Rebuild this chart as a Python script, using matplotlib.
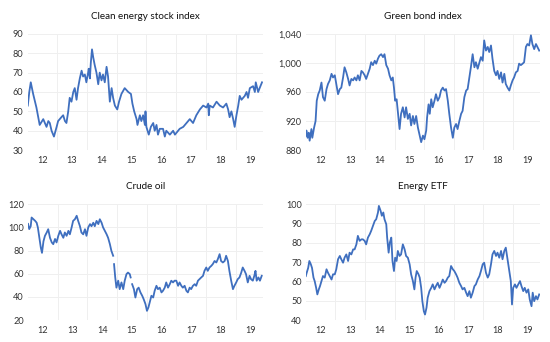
import numpy as np
import matplotlib.pyplot as plt
from matplotlib.ticker import FuncFormatter

# decimal-year offsets from 2012 and index levels
clean_t = [0.01, 0.06, 0.11, 0.19, 0.30, 0.41, 0.53, 0.64, 0.70, 0.75, 0.81, 0.89, 0.98,
           1.03, 1.14, 1.20, 1.26, 1.31, 1.37, 1.42, 1.48, 1.54, 1.59, 1.65, 1.70, 1.76, 1.82,
           1.87, 1.93, 1.98, 2.04, 2.06, 2.10, 2.13, 2.17, 2.21, 2.26, 2.32, 2.38, 2.43, 2.49,
           2.54, 2.60, 2.66, 2.71, 2.77, 2.83, 2.88, 2.94, 3.02, 3.08, 3.16, 3.27, 3.39, 3.48,
           3.53, 3.59, 3.67, 3.70, 3.78, 3.83, 3.89, 3.95, 3.97, 4.00, 4.08, 4.15, 4.23, 4.28,
           4.34, 4.39, 4.45, 4.56, 4.62, 4.67, 4.73, 4.79, 4.90, 4.96, 5.12, 5.24, 5.35, 5.46,
           5.57, 5.68, 5.80, 5.91, 6.02, 6.08, 6.10, 6.13, 6.24, 6.36, 6.47, 6.58, 6.69, 6.75,
           6.80, 6.86, 6.92, 6.97, 7.03, 7.09, 7.14, 7.20, 7.31, 7.37, 7.42, 7.48, 7.59, 7.65,
           7.68, 7.76, 7.81, 7.89]
clean_v = [53, 60, 65, 59, 52, 43, 46, 42, 45, 44, 40, 37, 42,
           45, 47, 48, 45, 44, 50, 57, 55, 60, 62, 56, 62, 67, 71,
           68, 69, 65, 70, 72, 67, 75, 82, 78, 74, 70, 64, 70, 66,
           69, 65, 73, 68, 55, 62, 57, 53, 51, 55, 59, 62, 60, 59,
           54, 50, 46, 43, 48, 45, 48, 43, 50, 42, 38, 42, 44, 40,
           43, 38, 41, 41, 37, 40, 39, 38, 40, 38, 41, 42, 44, 46,
           44, 48, 51, 53, 52, 54, 48, 53, 52, 55, 53, 52, 54, 51,
           47, 50, 46, 42, 48, 53, 58, 56, 58, 60, 57, 62, 63, 60,
           65, 60, 62, 65]

bond_t = [0.00, 0.02, 0.06, 0.10, 0.13, 0.19, 0.22, 0.28, 0.33, 0.37, 0.42, 0.47, 0.53,
          0.58, 0.64, 0.70, 0.75, 0.81, 0.87, 0.92, 0.98, 1.03, 1.09, 1.15, 1.20, 1.26, 1.31,
          1.37, 1.43, 1.48, 1.54, 1.60, 1.65, 1.71, 1.76, 1.82, 1.88, 1.93, 1.99, 2.04, 2.10,
          2.16, 2.21, 2.27, 2.33, 2.38, 2.44, 2.49, 2.55, 2.61, 2.66, 2.72, 2.78, 2.83, 2.89,
          2.94, 2.98, 3.02, 3.07, 3.11, 3.17, 3.22, 3.28, 3.34, 3.39, 3.45, 3.51, 3.56, 3.62,
          3.67, 3.73, 3.79, 3.84, 3.90, 3.96, 4.01, 4.07, 4.10, 4.15, 4.19, 4.24, 4.29, 4.35,
          4.40, 4.46, 4.52, 4.57, 4.63, 4.69, 4.74, 4.80, 4.85, 4.91, 4.97, 5.02, 5.08, 5.13,
          5.19, 5.25, 5.30, 5.36, 5.42, 5.47, 5.53, 5.58, 5.64, 5.70, 5.75, 5.81, 5.87, 5.92,
          5.98, 6.03, 6.09, 6.15, 6.20, 6.26, 6.31, 6.37, 6.43, 6.48, 6.54, 6.60, 6.65, 6.71,
          6.76, 6.82, 6.88, 6.93, 6.99, 7.04, 7.10, 7.16, 7.21, 7.27, 7.33, 7.38, 7.44, 7.49,
          7.55, 7.61, 7.66, 7.72, 7.78, 7.83, 7.89]
bond_v = [900, 907, 897, 904, 893, 909, 897, 911, 920, 948, 957, 962, 973,
          953, 948, 964, 971, 976, 985, 980, 983, 971, 957, 964, 966, 980, 994,
          987, 978, 969, 978, 976, 980, 976, 983, 976, 989, 987, 983, 978, 985,
          992, 1001, 997, 1003, 999, 1006, 1010, 1012, 1008, 1012, 997, 992, 983, 976,
          980, 966, 948, 950, 934, 909, 930, 939, 925, 939, 923, 930, 914, 927,
          916, 927, 911, 902, 891, 900, 895, 907, 925, 943, 930, 950, 939, 948,
          957, 948, 953, 962, 966, 962, 964, 948, 930, 911, 897, 911, 916, 909,
          920, 930, 934, 953, 962, 964, 980, 994, 1012, 994, 1001, 992, 1001, 1008,
          1003, 1031, 1017, 1022, 1015, 1024, 1006, 989, 983, 989, 978, 987, 973, 985,
          971, 966, 962, 969, 976, 980, 987, 989, 999, 997, 999, 1001, 1022, 1026,
          1024, 1038, 1026, 1019, 1026, 1022, 1017]

# NaN marks the two breaks in the oil series
oil_t = [0.00, 0.04, 0.09, 0.12, 0.18, 0.24, 0.29, 0.33, 0.38, 0.43, 0.47, 0.52, 0.57,
         0.63, 0.68, 0.74, 0.80, 0.85, 0.91, 0.96, 1.02, 1.08, 1.13, 1.19, 1.24, 1.30, 1.36,
         1.41, 1.47, 1.52, 1.58, 1.64, 1.69, 1.75, 1.80, 1.86, 1.92, 1.97, 2.03, 2.09, 2.14,
         2.20, 2.25, 2.31, 2.37, 2.42, 2.48, 2.53, 2.59, 2.65, 2.70, 2.76, 2.81, 2.87, 2.885,
         2.90, 2.94, 2.98, 3.04, 3.09, 3.15, 3.21, 3.26, 3.32, 3.37, 3.43, 3.46, 3.485,
         3.51, 3.57, 3.62, 3.68, 3.73, 3.79, 3.85, 3.90, 3.96, 4.01, 4.06, 4.10, 4.16, 4.22,
         4.27, 4.33, 4.38, 4.44, 4.50, 4.55, 4.61, 4.66, 4.72, 4.78, 4.83, 4.89, 4.94, 5.00,
         5.06, 5.11, 5.17, 5.22, 5.28, 5.34, 5.39, 5.45, 5.50, 5.56, 5.62, 5.67, 5.73, 5.78,
         5.84, 5.90, 5.95, 6.01, 6.06, 6.12, 6.18, 6.23, 6.29, 6.35, 6.40, 6.46, 6.51, 6.57,
         6.63, 6.68, 6.74, 6.79, 6.85, 6.91, 6.96, 7.02, 7.07, 7.13, 7.19, 7.24, 7.30, 7.35,
         7.41, 7.47, 7.52, 7.58, 7.63, 7.67, 7.71, 7.77, 7.82, 7.88]
oil_v = [103, 98.5, 101, 108.5, 107, 105.6, 104, 100, 91, 82.6, 78, 88, 92.7,
         95.6, 98.4, 91, 87, 85.5, 90, 87, 92.7, 97, 94, 91, 95.6, 92.7, 97,
         94, 100, 105.6, 107, 110, 105.6, 101, 95.6, 94, 98.4, 92.7, 100, 102.8, 101,
         104, 101, 105.6, 102.8, 107, 104, 100, 97, 94, 91, 85.5, 79.8, 75.5, np.nan,
         68.3, 56.8, 48, 54, 46.7, 52.5, 46.7, 54, 59.7, 61, 59.7, 56.8, np.nan,
         51, 46.7, 39.5, 46.7, 48, 43.9, 41, 38, 33.8, 28, 31, 35, 41, 39.5,
         45.3, 49.6, 46.7, 48, 43.9, 45.3, 48, 52.5, 48, 51, 54, 52.5, 54, 54,
         49.6, 52.5, 49.6, 48, 49.6, 45.3, 43.9, 48, 46.7, 49.6, 51, 49.6, 54, 55.3,
         56.8, 58.2, 62.5, 65.4, 62.5, 65.4, 66.8, 68.3, 71, 69.7, 72.6, 76.9, 71, 69.7,
         71, 75.5, 71, 62.5, 54, 46.7, 49.6, 52.5, 55.3, 56.8, 61, 65.4, 62.5, 59.7,
         52.5, 58.2, 55.3, 54, 58.2, 62.5, 54, 56.8, 54, 58.2]

etf_t = [0.00, 0.03, 0.08, 0.12, 0.17, 0.21, 0.26, 0.30, 0.35, 0.39, 0.44, 0.48, 0.53,
         0.58, 0.64, 0.70, 0.75, 0.81, 0.87, 0.92, 0.98, 1.03, 1.09, 1.15, 1.20, 1.26, 1.31,
         1.37, 1.43, 1.48, 1.54, 1.60, 1.65, 1.71, 1.76, 1.82, 1.88, 1.93, 1.99, 2.04, 2.10,
         2.16, 2.21, 2.27, 2.33, 2.38, 2.44, 2.47, 2.53, 2.57, 2.62, 2.66, 2.72, 2.75, 2.80,
         2.84, 2.89, 2.93, 2.98, 3.02, 3.07, 3.11, 3.17, 3.22, 3.28, 3.34, 3.39, 3.45, 3.51,
         3.56, 3.62, 3.67, 3.71, 3.75, 3.81, 3.85, 3.90, 3.94, 3.99, 4.03, 4.08, 4.12, 4.18,
         4.24, 4.29, 4.35, 4.40, 4.46, 4.52, 4.57, 4.63, 4.69, 4.74, 4.80, 4.85, 4.91, 4.97,
         5.02, 5.08, 5.13, 5.19, 5.25, 5.30, 5.36, 5.42, 5.47, 5.53, 5.58, 5.64, 5.70, 5.75,
         5.81, 5.87, 5.92, 5.98, 6.03, 6.09, 6.15, 6.20, 6.26, 6.31, 6.37, 6.43, 6.48, 6.54,
         6.60, 6.65, 6.71, 6.76, 6.82, 6.88, 6.93, 6.97, 7.01, 7.07, 7.12, 7.18, 7.24, 7.29,
         7.35, 7.40, 7.46, 7.52, 7.57, 7.63, 7.67, 7.72, 7.78, 7.83, 7.89]
etf_v = [62.8, 64.5, 67, 70.6, 68.9, 67, 62, 60.2, 56.7, 53.3, 55.9, 57.6, 60.2,
         62.8, 62, 66.3, 64.5, 62.8, 61, 63.7, 63.7, 66.3, 71.5, 73.2, 71.5, 69.7, 72.3,
         74, 70.6, 74.9, 74, 76.6, 76.6, 79.2, 83.6, 81, 81.8, 81.8, 81, 79.2, 82.7,
         84.4, 86.2, 88.8, 91.3, 92.2, 95.7, 99.1, 96.5, 94, 95.7, 92.2, 89.6, 82.7, 74.9,
         80.1, 82.7, 70.6, 65.4, 72.3, 70.6, 75.8, 73.2, 74, 79.2, 76.6, 73.2, 72.3, 68.9,
         63.7, 60.2, 55.9, 62, 65.4, 63.7, 62, 56.7, 49.8, 44.6, 42.9, 46.4, 51.6, 55,
         56.7, 58.5, 55.9, 57.6, 59.3, 56.7, 58.5, 61, 59.3, 60.2, 62, 62.8, 68, 66.3,
         65.4, 63.7, 62, 59.3, 57.6, 55.9, 56.7, 54.2, 52.4, 55, 51.6, 54.2, 57.6, 58.5,
         61, 62.8, 65.4, 68.9, 69.7, 64.5, 62, 63.7, 68.9, 74, 75.8, 73.2, 74.9, 72.3,
         75.8, 71.5, 75.8, 77.5, 71.5, 65.4, 60.2, 48.1, 56.7, 58.5, 56.7, 58.5, 60.2, 57.6,
         55, 56.7, 54.2, 55.9, 50.7, 47.2, 54.2, 49.8, 52.4, 50.7, 53.3]

titles = ['Clean energy stock index', 'Green bond index', 'Crude oil', 'Energy ETF']
yticks = [[30, 40, 50, 60, 70, 80, 90],
          [880, 920, 960, 1000, 1040],
          [20, 40, 60, 80, 100, 120],
          [40, 50, 60, 70, 80, 90, 100]]
years = list(range(2012, 2020))
year_labels = ['12', '13', '14', '15', '16', '17', '18', '19']

plt.rcParams['font.family'] = ['Lato', 'DejaVu Sans']
blue = '#3f6fbf'
grid = '#efefef'

fig = plt.figure(figsize=(5.5, 3.42), dpi=100)
boxes = [[0.050, 0.561, 0.428, 0.340],
         [0.556, 0.561, 0.426, 0.340],
         [0.051, 0.064, 0.427, 0.339],
         [0.556, 0.064, 0.426, 0.339]]
series = [(clean_t, clean_v), (bond_t, bond_v), (oil_t, oil_v), (etf_t, etf_v)]

for box, (t, v), title, yt in zip(boxes, series, titles, yticks):
    ax = fig.add_axes(box)
    x = 2012 + np.array(t)
    ax.plot(x, v, color=blue, lw=1.3, zorder=3)
    ax.set_xlim(2012.0, 2019.92)
    ax.set_ylim(yt[0], yt[-1])
    ax.set_yticks(yt)
    if yt[-1] > 1000:
        ax.yaxis.set_major_formatter(FuncFormatter(lambda val, pos: f'{val:,.0f}'))
    ax.set_xticks(years[1:])
    ax.set_xticklabels([])
    ax.set_xticks([yr + 0.5 for yr in years], minor=True)
    ax.set_xticklabels(year_labels, minor=True)
    ax.tick_params(which='both', length=0, labelsize=6.6, colors='#333333')
    ax.tick_params(axis='y', pad=3)
    ax.tick_params(axis='x', which='minor', pad=4)
    ax.grid(True, which='major', color=grid, lw=0.7)
    for s in ax.spines.values():
        s.set_visible(False)
    ax.set_title(title, fontsize=7.1, pad=11, color='#111111')

fig.savefig('out.png', dpi=100)
